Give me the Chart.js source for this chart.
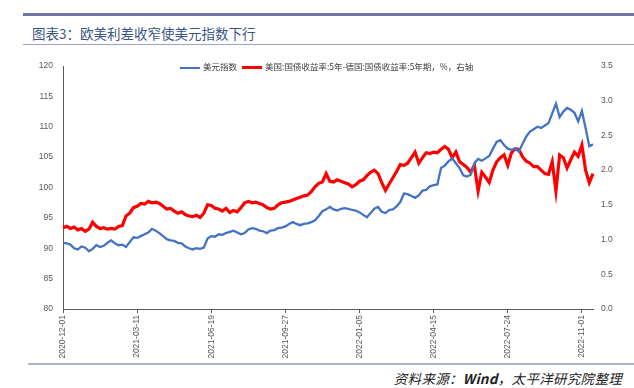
<!DOCTYPE html>
<html lang="zh">
<head>
<meta charset="UTF-8">
<title>图表3</title>
<script src="https://cdn.jsdelivr.net/npm/chart.js"></script>
<style>
  body { margin:0; width:634px; height:388px; position:relative; background:#fff; overflow:hidden; font-family:'Noto Sans CJK SC', sans-serif; }
  .rule { position:absolute; left:23px; right:0; }
  #title { position:absolute; left:32px; top:24px; font-size:13.5px; line-height:18px; color:#3a5584; }
  #wrap { position:absolute; left:0; top:50px; width:634px; height:312px; }
  #legend { position:absolute; left:180px; top:60px; height:12px; font-size:8.5px; line-height:12px; color:#404040; white-space:nowrap; }
  #legend span.item { display:inline-block; margin-right:5px; }
  #legend span.mark { display:inline-block; width:20px; vertical-align:middle; margin-right:3px; }
  #source { position:absolute; right:12px; top:369px; font-size:13.5px; line-height:18px; font-style:italic; color:#222; letter-spacing:0.3px; }
</style>
</head>
<body>
<div class="rule" style="top:13px;height:3px;background:#6f74a4"></div>
<div id="title">图表3：欧美利差收窄使美元指数下行</div>
<div class="rule" style="top:44px;height:1px;background:#9ea2c6"></div>
<div id="wrap"><canvas id="chart"></canvas></div>
<div id="legend"></div>
<div class="rule" style="left:28px;top:363px;height:2px;background:#aeb4da"></div>
<div id="source">资料来源：<b>Wind</b>，太平洋研究院整理</div>
<script>
// samples every 5 days starting 2020-12-01
const startDate = '2020-12-01'
const stepDays = 5
const tickDates = ['2020-12-01','2021-03-11','2021-06-19','2021-09-27','2022-01-05','2022-04-15','2022-07-24','2022-11-01']
const seriesNames = ['美元指数', '美国:国债收益率:5年-德国:国债收益率:5年期，%，右轴']

// 美元指数 (left axis)
const dollarIndex = [
  90.9,90.8,90.6,90.0,89.8,90.3,90.1,89.5,89.9,90.5,
  90.2,90.4,90.9,91.3,90.8,90.5,90.6,90.2,91.0,91.8,
  91.7,92.0,92.3,92.6,93.2,92.9,92.5,92.0,91.5,91.3,
  91.2,90.9,90.8,90.3,90.0,89.8,90.0,89.9,90.1,91.6,
  92.0,91.9,92.3,92.2,92.5,92.7,92.9,92.6,92.3,92.5,
  93.1,93.3,93.2,92.9,92.8,92.5,92.9,93.0,93.3,93.4,
  93.6,94.0,94.3,94.0,93.8,94.0,94.1,94.3,94.6,95.3,
  96.1,96.4,96.8,96.4,96.2,96.5,96.6,96.5,96.3,96.2,
  95.9,95.5,95.1,95.8,96.5,96.8,96.0,95.8,96.3,96.4,
  96.9,97.6,99.0,98.9,98.6,98.3,98.7,99.5,99.6,100.2,
  100.4,100.5,103.2,103.6,104.3,104.8,104.0,103.2,102.0,101.8,
  102.1,104.0,104.7,104.4,104.8,105.2,106.4,107.5,107.8,107.0,
  106.4,106.2,106.4,105.9,107.2,108.4,109.2,109.6,110.0,109.8,
  110.2,110.6,112.2,113.8,111.6,112.5,113.1,112.8,112.3,110.9,
  112.6,109.8,106.8,107.1
]

// US 5y - DE 5y spread, % (right axis)
const yieldSpread = [
  1.17,1.19,1.16,1.18,1.14,1.16,1.12,1.15,1.25,1.19,
  1.16,1.17,1.15,1.16,1.15,1.19,1.20,1.34,1.38,1.46,
  1.48,1.52,1.51,1.55,1.53,1.54,1.52,1.48,1.44,1.45,
  1.41,1.38,1.40,1.36,1.34,1.33,1.35,1.32,1.38,1.50,
  1.49,1.45,1.44,1.41,1.45,1.39,1.42,1.40,1.46,1.53,
  1.55,1.53,1.54,1.52,1.50,1.46,1.44,1.45,1.50,1.53,
  1.54,1.55,1.57,1.59,1.61,1.63,1.64,1.69,1.76,1.81,
  1.83,1.95,1.84,1.83,1.86,1.84,1.82,1.80,1.76,1.79,
  1.84,1.86,1.92,1.97,2.00,1.95,1.82,1.71,1.80,1.89,
  1.98,2.08,2.07,2.10,2.18,2.26,2.10,2.18,2.25,2.24,
  2.26,2.25,2.30,2.34,2.30,2.18,2.26,2.12,2.08,2.04,
  1.97,2.07,1.70,1.97,1.90,1.82,2.00,2.12,2.18,2.22,
  2.07,2.25,2.31,2.30,2.19,2.13,2.10,2.05,2.05,2.00,
  1.95,1.94,2.12,1.70,2.22,2.18,2.03,2.15,2.26,2.20,
  2.36,2.00,1.82,1.95
]

const colors = ['#4472c4', '#ff0000']

const labels = []
const d0 = new Date(startDate + 'T00:00:00Z')
for (let i = 0; i < dollarIndex.length; i++) {
  const d = new Date(d0.getTime() + i * stepDays * 86400000)
  labels.push(d.toISOString().slice(0, 10))
}

let legendHtml = ''
seriesNames.forEach((name, i) => {
  const h = i == 0 ? 2 : 3
  legendHtml += `<span class="item"><span class="mark" style="height:${h}px;background:${colors[i]}"></span>${name}</span>`
})
document.getElementById('legend').innerHTML = legendHtml

const axisGray = '#595959'
const tickFont = { family: "'Liberation Sans', sans-serif", size: 8.5 }

new Chart(document.getElementById('chart'), {
  type: 'line',
  data: {
    labels: labels,
    datasets: [{
      label: seriesNames[0],
      data: dollarIndex,
      borderColor: colors[0],
      borderWidth: 2.3,
      pointRadius: 0,
      yAxisID: 'y'
    }, {
      label: seriesNames[1],
      data: yieldSpread,
      borderColor: colors[1],
      borderWidth: 3.2,
      pointRadius: 0,
      yAxisID: 'y1'
    }]
  },
  options: {
    responsive: true,
    maintainAspectRatio: false,
    animation: false,
    layout: { padding: { top: 16, left: 0, right: 0, bottom: 0 } },
    plugins: { legend: { display: false }, tooltip: { enabled: false } },
    scales: {
      x: {
        afterFit: s => { s.height = 53 },
        border: { color: axisGray, width: 1 },
        grid: { drawOnChartArea: false, color: axisGray, tickLength: 4 },
        ticks: {
          autoSkip: false, maxRotation: 90, minRotation: 90, padding: 2,
          color: axisGray, font: tickFont,
          callback: function (v) {
            const l = this.getLabelForValue(v)
            return tickDates.includes(l) ? l : null
          }
        }
      },
      y: {
        position: 'left',
        min: 80, max: 120,
        afterFit: s => { s.width = 63 },
        border: { color: axisGray, width: 1 },
        grid: { drawOnChartArea: false, drawTicks: false },
        ticks: { stepSize: 5, padding: 10, color: axisGray, font: tickFont }
      },
      y1: {
        position: 'right',
        min: 0, max: 3.5,
        afterFit: s => { s.width = 41 },
        border: { display: false },
        grid: { drawOnChartArea: false, drawTicks: false },
        ticks: { stepSize: 0.5, padding: 8, color: axisGray, font: tickFont, callback: v => v.toFixed(1) }
      }
    }
  }
})
</script>
</body>
</html>
